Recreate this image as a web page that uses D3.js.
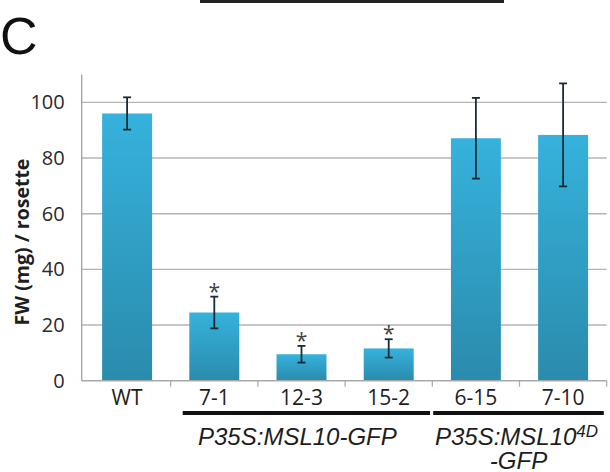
<!DOCTYPE html>
<html><head><meta charset="utf-8">
<script src="https://cdn.jsdelivr.net/npm/d3@7"></script>
<style>html,body{margin:0;padding:0;background:#fff;}</style>
</head><body>
<svg id="chart" width="610" height="472"></svg>
<script>
const categories = ["WT", "7-1", "12-3", "15-2", "6-15", "7-10"];
const values = [96, 24.5, 9.5, 11.6, 87.1, 88.3];
const errors = [5.8, 5.7, 3.0, 3.3, 14.5, 18.5];
const significant = [false, true, true, true, false, false];
const yTicks = [0, 20, 40, 60, 80, 100];
const yLabel = "FW (mg) / rosette";
const groups = [
  {from: "7-1", to: "15-2", main: "P35S:MSL10-GFP", sup: "", line2: ""},
  {from: "6-15", to: "7-10", main: "P35S:MSL10", sup: "4D", line2: "-GFP"}
];
const panelLetter = "C";

const svg = d3.select("#chart");
const defs = svg.append("defs");
const grad = defs.append("linearGradient").attr("id", "barGrad")
  .attr("x1", 0).attr("y1", 0).attr("x2", 0).attr("y2", 1);
grad.append("stop").attr("offset", "0%").attr("stop-color", "#36b2dc");
grad.append("stop").attr("offset", "100%").attr("stop-color", "#2a8bac");

const axisX = 81.7, plotTop = 74.5, plotBottom = 380.7, plotRight = 606.7;
const y = d3.scaleLinear().domain([0, 110]).range([plotBottom, plotTop]);
const x = d3.scaleBand().domain(categories).range([83.5, plotRight])
  .paddingInner(0.427).paddingOuter(0.2135);
const step = x.step();

// top decorative line (cropped from the panel above)
svg.append("line").attr("x1", 200).attr("x2", 504).attr("y1", 1.5).attr("y2", 1.5)
  .attr("stroke", "#222").attr("stroke-width", 3);

svg.append("text").attr("x", 0).attr("y", 54).text(panelLetter)
  .attr("font-family", "Liberation Sans, Arial, sans-serif").attr("font-size", 52).attr("fill", "#111");

// gridlines
svg.append("g").selectAll("line").data(yTicks.filter(d => d > 0)).join("line")
  .attr("x1", axisX).attr("x2", plotRight).attr("y1", d => y(d)).attr("y2", d => y(d))
  .attr("stroke", "#b4b4b4").attr("stroke-width", 1.4);

// y axis
const yAxis = d3.axisLeft(y).tickValues(yTicks).tickSize(0).tickPadding(17);
const gy = svg.append("g").attr("transform", `translate(${axisX},0)`).call(yAxis);
gy.select(".domain").remove();
gy.selectAll("text").attr("font-family", "Open Sans, sans-serif").attr("font-size", 20).attr("fill", "#2a2a2a");
svg.append("line").attr("x1", axisX).attr("x2", axisX).attr("y1", plotTop).attr("y2", plotBottom)
  .attr("stroke", "#a8a8a8").attr("stroke-width", 1.4);

// bars
svg.append("g").selectAll("rect").data(categories).join("rect")
  .attr("x", d => x(d)).attr("width", x.bandwidth())
  .attr("y", (d, i) => y(values[i])).attr("height", (d, i) => y(0) - y(values[i]))
  .attr("fill", "url(#barGrad)");

// x axis
svg.append("line").attr("x1", axisX).attr("x2", plotRight).attr("y1", plotBottom).attr("y2", plotBottom)
  .attr("stroke", "#a8a8a8").attr("stroke-width", 1.4);
const bounds = categories.map(c => x(c) - (step - x.bandwidth()) / 2).slice(1).concat([plotRight]);
svg.append("g").selectAll("line").data(bounds).join("line")
  .attr("x1", d => d).attr("x2", d => d).attr("y1", plotBottom).attr("y2", plotBottom + 6)
  .attr("stroke", "#a8a8a8").attr("stroke-width", 1.2);

const xAxis = d3.axisBottom(x).tickSize(0).tickPadding(9);
const gx = svg.append("g").attr("transform", `translate(0,${plotBottom})`).call(xAxis);
gx.select(".domain").remove();
gx.selectAll("text").attr("font-family", "Open Sans, sans-serif").attr("font-size", 21)
  .attr("font-weight", 500).attr("fill", "#1e1e1e");

// error bars
const eg = svg.append("g").attr("stroke", "#1b2b33").attr("stroke-width", 1.8);
categories.forEach((c, i) => {
  const cx = x(c) + x.bandwidth() / 2;
  const hi = y(values[i] + errors[i]), lo = y(values[i] - errors[i]);
  eg.append("line").attr("x1", cx).attr("x2", cx).attr("y1", hi).attr("y2", lo);
  eg.append("line").attr("x1", cx - 4).attr("x2", cx + 4).attr("y1", hi).attr("y2", hi);
  eg.append("line").attr("x1", cx - 4).attr("x2", cx + 4).attr("y1", lo).attr("y2", lo);
});

// significance asterisks
svg.append("g").selectAll("text").data(categories.filter((c, i) => significant[i])).join("text")
  .attr("x", c => x(c) + x.bandwidth() / 2)
  .attr("y", c => { const i = categories.indexOf(c); return y(values[i] + errors[i]) + 2; })
  .attr("text-anchor", "middle").attr("font-family", "Open Sans, sans-serif")
  .attr("font-size", 21).attr("fill", "#444").text("*");

// y axis title
svg.append("text").attr("transform", "translate(29,242) rotate(-90)")
  .attr("text-anchor", "middle").attr("font-family", "Open Sans, sans-serif")
  .attr("font-weight", "bold").attr("font-size", 19.5).attr("fill", "#1e1e1e").text(yLabel);

// group lines and labels
const groupPad = [[-6.6, 16.4], [-17.7, 15.7]];
const labelShift = [-9, -2];
groups.forEach((g, k) => {
  const x0 = x(g.from) + groupPad[k][0];
  const x1 = x(g.to) + x.bandwidth() + groupPad[k][1];
  svg.append("rect").attr("x", x0).attr("y", 411).attr("width", x1 - x0).attr("height", 4).attr("fill", "#111");
  const cx = (x0 + x1) / 2 + labelShift[k];
  const t = svg.append("text").attr("x", cx).attr("y", 445).attr("text-anchor", "middle")
    .attr("font-family", "Liberation Sans, Arial, sans-serif").attr("font-style", "italic")
    .attr("font-size", 24).attr("fill", "#1e1e1e");
  t.append("tspan").text(g.main);
  if (g.sup) t.append("tspan").attr("dy", -8).attr("font-size", 17).text(g.sup);
  if (g.line2) svg.append("text").attr("x", cx + 2).attr("y", 469).attr("text-anchor", "middle")
    .attr("font-family", "Liberation Sans, Arial, sans-serif").attr("font-style", "italic")
    .attr("font-size", 24).attr("fill", "#1e1e1e").text(g.line2);
});
</script>
</body></html>
